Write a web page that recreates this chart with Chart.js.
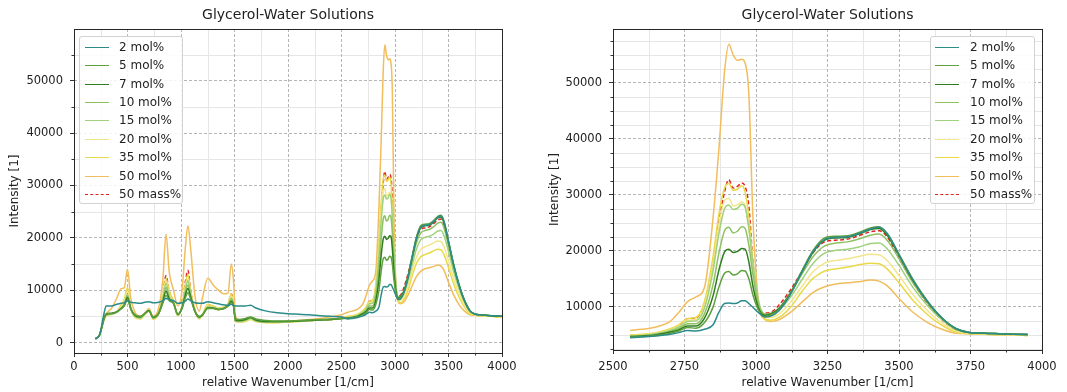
<!DOCTYPE html>
<html><head><meta charset="utf-8">
<script src="https://cdn.jsdelivr.net/npm/chart.js@4.4.1/dist/chart.umd.min.js"></script>
<style>
html,body{margin:0;padding:0;background:#fff;}
#wrap{position:relative;width:1067px;height:392px;overflow:hidden;background:#fff;}
canvas{position:absolute;top:0;}
.legend{position:absolute;background:rgba(255,255,255,0.85);border:1px solid #d2d2d2;border-radius:3px;font-family:"DejaVu Sans";font-size:12px;color:#222;box-sizing:border-box;}
.legend .row{position:absolute;left:0;height:18px;line-height:18px;white-space:nowrap;}
.legend .sw{position:absolute;top:9px;width:24px;height:0;}
.legend .tx{position:absolute;top:0;}
</style></head>
<body>
<div id="wrap">
  <canvas id="cL" width="533" height="392" style="left:0px"></canvas>
  <canvas id="cR" width="534" height="392" style="left:533px"></canvas>
  <div id="legL" class="legend" style="left:79px;top:36px;width:104px;height:168px;"></div>
  <div id="legR" class="legend" style="left:930px;top:36px;width:105px;height:168px;"></div>
</div>
<script>
// ---------- data ----------
const lowX = [200,240,280,300,350,400,440,470,500,530,570,620,660,700,740,790,830,860,890,930,970,1010,1040,1065,1090,1130,1170,1200,1250,1300,1350,1400,1440,1470,1490,1510,1550,1600,1650,1700,1800,1900,2000,2100,2200,2300,2400,2500];
const highX = [2560,2600,2650,2700,2730,2760,2790,2820,2850,2870,2890,2905,2920,2935,2950,2962,2975,2990,3010,3030,3050,3080,3120,3160,3200,3240,3280,3320,3360,3400,3430,3460,3500,3550,3600,3650,3700,3750,3800,3850,3900,3950,4000];

const seriesLabels = ['2 mol%','5 mol%','7 mol%','10 mol%','15 mol%','20 mol%','35 mol%','50 mol%','50 mass%'];

const mol2Low  = [700,1500,5500,7000,7000,7300,7500,7600,8000,7700,7600,7500,7700,7800,7600,7700,8000,8400,8200,8000,7500,7600,7900,8300,8000,7600,7500,7500,7800,7600,7400,7200,7100,7300,7100,7000,7000,7000,7100,6600,6000,5700,5500,5400,5300,5100,5000,4900];
const mol5Low  = [700,1500,4500,5300,5500,5800,6400,7000,8200,6500,5300,5000,5500,6000,4900,5500,7500,9000,8000,7500,5500,6500,8500,9500,8300,6000,5000,5300,6500,6500,6300,6500,7000,7600,7000,4500,4400,4600,4900,4500,4200,4100,4100,4200,4300,4400,4500,4600];
const mol7Low  = [700,1500,4600,5400,5600,5900,6500,7100,8600,6500,5200,4900,5500,6100,4800,5500,7800,9800,8300,7500,5400,6600,9000,10300,8700,6000,4900,5200,6600,6600,6300,6500,7000,7900,7100,4300,4200,4400,4800,4300,4000,4000,4000,4100,4200,4300,4400,4600];
const mol10Low = [700,1500,4500,5300,5500,5800,6500,7200,8900,6400,5100,4800,5500,6100,4700,5500,8100,10500,8600,7500,5300,6700,9500,11000,9000,6000,4800,5200,6700,6600,6300,6500,7100,8200,7200,4200,4100,4300,4700,4200,3900,3900,4000,4100,4200,4300,4400,4600];
const mol15Low = [700,1500,4400,5200,5400,5800,6600,7400,9200,6400,5000,4700,5400,6200,4600,5500,8400,11300,8900,7600,5200,6800,10000,11800,9300,6000,4700,5200,6800,6700,6400,6600,7200,8500,7300,4100,4000,4200,4600,4100,3900,3900,4000,4100,4200,4300,4400,4600];
const mol20Low = [700,1500,4300,5100,5400,5800,6800,7800,9800,6500,4900,4600,5300,6300,4500,5500,8600,11600,9200,7800,5100,6900,10300,12200,9600,6000,4600,5200,7000,6800,6500,6700,7300,8900,7400,4000,3900,4100,4500,4000,3800,3800,3900,4000,4200,4300,4400,4700];
const mol35Low = [700,1500,4200,5000,5400,5900,7200,8300,10500,6700,4800,4500,5300,6400,4400,5600,8900,12300,9800,8000,5100,7100,11000,13000,10000,6100,4500,5300,7300,7000,6600,6800,7500,9300,7500,4000,3900,4000,4400,4000,3800,3800,3900,4000,4200,4300,4400,4700];
const mol50Low = [700,1500,4500,5500,6500,8500,10300,10500,14000,8500,5800,5000,5600,6500,5000,6500,12000,20700,13500,10000,7000,10000,18000,22300,18000,9000,6000,8500,12300,11000,10000,9300,9500,15000,12000,5000,4200,4200,4500,4100,3900,3900,4000,4200,4400,4600,4900,5300];
const mass50Low= [700,1500,4400,5200,5500,5900,6700,7600,9500,6600,5000,4700,5500,6300,4600,5600,9000,12800,9800,7800,5300,7000,11500,13800,10000,6200,4800,5300,7000,6900,6500,6600,7200,9300,7600,4100,4000,4100,4600,4100,3900,3900,4000,4100,4200,4300,4400,4700];

const mol2High  = [4500,4600,4800,5100,5400,5800,5700,6000,6800,9000,10600,10700,10600,10700,11100,11100,10600,9900,8900,8200,8300,9300,12200,16200,19900,22000,22400,22500,23100,23900,24200,23000,19300,14700,10900,8000,6100,5400,5300,5200,5100,5100,5000];
const mol5High  = [4600,4700,4900,5300,5700,6300,6200,7200,10000,13500,16000,16300,15700,15900,16500,16400,15000,12000,9300,8300,8500,9500,12400,16400,20100,22300,22600,22700,23300,24100,24300,23000,19400,14800,11000,8000,6100,5400,5300,5200,5100,5100,5000];
const mol7High  = [4700,4800,5000,5500,5900,6600,6600,8000,12000,16500,19800,20300,19700,19900,20400,20300,18000,13500,9600,8500,8700,9700,12500,16200,19800,21900,22300,22400,23000,23800,24000,22700,19200,14600,10900,8000,6100,5400,5300,5200,5100,5000,5000];
const mol10High = [4700,4800,5100,5600,6100,7000,7000,8800,14000,19500,23600,24200,23200,23500,24300,24000,21000,15500,10200,8700,8800,9700,12300,15800,19000,20900,21400,21600,22100,22800,23000,21800,18600,14200,10700,7900,6000,5400,5300,5200,5100,5000,5000];
const mol15High = [4800,4900,5200,5800,6400,7400,7500,9800,16500,23000,27500,28200,27400,27600,28300,27800,24000,17500,10800,8700,8600,9400,11700,14800,17800,19600,20100,20300,20700,21300,21400,20300,17400,13400,10200,7700,5900,5400,5300,5200,5100,5000,5000];
const mol20High = [4900,5000,5300,5900,6500,7600,7700,10300,17500,24500,29000,29400,28000,28200,28700,28000,24000,17000,10300,8300,8100,8700,10800,13600,16300,17800,18300,18600,19000,19400,19300,18200,15600,12100,9300,7100,5700,5300,5200,5100,5000,5000,4900];
const mol35High = [5000,5100,5400,6100,6800,7900,8100,11000,19000,26500,31200,32000,30800,31000,31600,30500,26000,17500,10000,7900,7600,8100,9900,12700,15100,16400,16800,17100,17500,17800,17700,16700,14300,11100,8600,6700,5500,5200,5100,5000,5000,4900,4900];
const mol50High = [5800,6000,6400,7400,9000,10900,11800,13500,26000,38000,52000,56900,55000,54000,54200,53500,48000,25000,10500,7800,7400,7700,9000,10800,12600,13600,14100,14300,14500,14800,14600,13700,11500,9000,7200,6000,5300,5200,5100,5000,5000,4900,4900];
const mass50High= [4900,5000,5300,5900,6500,7900,8000,10500,18000,25000,30500,32700,31200,31500,32100,31500,28000,17500,10200,8900,9000,10300,13000,16300,19700,21600,21900,22100,22700,23400,23600,22400,18700,14300,10600,7700,5900,5300,5200,5100,5000,5000,5000];

// tick labels
const xTicksLeft  = [0,500,1000,1500,2000,2500,3000,3500,4000];
const yTicksLeft  = [0,10000,20000,30000,40000,50000];
const xTicksRight = [2500,2750,3000,3250,3500,3750,4000];
const yTicksRight = [10000,20000,30000,40000,50000];

// ---------- styling ----------
const seriesColors = ['#2b8c8a','#5e9f3e','#2f7d1f','#8fc062','#9fd27c','#f3e68a','#e9d948','#f2bd5c','#e02424'];
const FONT = 'DejaVu Sans';
const lowSets  = [mol2Low,mol5Low,mol7Low,mol10Low,mol15Low,mol20Low,mol35Low,mol50Low,mass50Low];
const highSets = [mol2High,mol5High,mol7High,mol10High,mol15High,mol20High,mol35High,mol50High,mass50High];

function minorList(min, max, step, majorStep){
  const out = [];
  for (let v = Math.ceil(min/step)*step; v <= max; v += step){
    if (Math.abs(v/majorStep - Math.round(v/majorStep)) > 1e-9) out.push(v);
  }
  return out;
}

const framePlugin = {
  id: 'frameMinor',
  beforeDraw(chart, args, o){
    const {ctx, chartArea:a} = chart;
    const x = chart.scales.x, y = chart.scales.y;
    ctx.save();
    ctx.lineWidth = 1;
    ctx.strokeStyle = '#e6e6e6';
    ctx.beginPath();
    o.xMinor.forEach(v => { const p = Math.round(x.getPixelForValue(v)) + 0.5; ctx.moveTo(p, a.top); ctx.lineTo(p, a.bottom); });
    o.yMinor.forEach(v => { const p = Math.round(y.getPixelForValue(v)) + 0.5; ctx.moveTo(a.left, p); ctx.lineTo(a.right, p); });
    ctx.stroke();
    ctx.strokeStyle = '#333';
    ctx.beginPath();
    o.xMinor.forEach(v => { const p = Math.round(x.getPixelForValue(v)) + 0.5; ctx.moveTo(p, a.bottom); ctx.lineTo(p, a.bottom + 2.5); });
    o.yMinor.forEach(v => { const p = Math.round(y.getPixelForValue(v)) + 0.5; ctx.moveTo(a.left - 2.5, p); ctx.lineTo(a.left, p); });
    ctx.stroke();
    ctx.restore();
  },
  afterDatasetsDraw(chart){
    const {ctx, chartArea:a} = chart;
    ctx.save();
    ctx.strokeStyle = '#262626';
    ctx.lineWidth = 1;
    ctx.strokeRect(Math.round(a.left)+0.5, Math.round(a.top)+0.5, Math.round(a.right-a.left), Math.round(a.bottom-a.top));
    ctx.restore();
  },
  afterDraw(chart, args, o){
    const {ctx, chartArea:a} = chart;
    ctx.save();
    ctx.font = '14px "' + FONT + '"';
    ctx.fillStyle = '#222';
    ctx.textAlign = 'center';
    ctx.textBaseline = 'middle';
    ctx.fillText(o.title, (a.left + a.right)/2, 15);
    ctx.restore();
  }
};

function makeChart(id, cfg){
  const datasets = seriesLabels.map((lab, i) => {
    const xs = cfg.useLow ? lowX.concat(highX) : highX.slice(0, highX.length - 1);
    const ys = cfg.useLow ? lowSets[i].concat(highSets[i]) : highSets[i].slice(0, highSets[i].length - 1);
    return {
      label: lab,
      data: xs.map((xv, k) => ({x: xv, y: ys[k]})),
      borderColor: seriesColors[i],
      backgroundColor: seriesColors[i],
      borderWidth: 1.5,
      borderDash: i === 8 ? [4, 2.5] : [],
      pointRadius: 0,
      fill: false,
      cubicInterpolationMode: 'monotone'
    };
  });
  const tickFont = {family: FONT, size: 11.5};
  const titleFont = {family: FONT, size: 12};
  return new Chart(document.getElementById(id), {
    type: 'line',
    data: {datasets},
    plugins: [framePlugin],
    options: {
      responsive: false,
      animation: false,
      layout: {padding: {top: 29, right: cfg.padRight, left: 0, bottom: 0}},
      plugins: {
        legend: {display: false},
        tooltip: {enabled: false},
        title: {display: false},
        frameMinor: {title: 'Glycerol-Water Solutions', xMinor: cfg.xMinor, yMinor: cfg.yMinor}
      },
      scales: {
        x: {
          type: 'linear', min: cfg.xMin, max: cfg.xMax,
          afterBuildTicks: s => { s.ticks = cfg.xTicks.map(v => ({value: v})); },
          afterFit: s => { s.height = cfg.xHeight; },
          ticks: {autoSkip: false, maxRotation: 0, padding: cfg.xPad, color: '#222', font: tickFont, callback: v => String(v)},
          grid: {color: '#b6b6b6', lineWidth: 1, drawTicks: true, tickLength: 4, tickColor: '#333', tickWidth: 1, tickBorderDash: []},
          border: {display: false, dash: [3, 2]},
          title: {display: true, text: 'relative Wavenumber [1/cm]', color: '#222', font: titleFont, padding: {top: 0, bottom: 2}}
        },
        y: {
          type: 'linear', min: cfg.yMin, max: cfg.yMax,
          afterBuildTicks: s => { s.ticks = cfg.yTicks.map(v => ({value: v})); },
          afterFit: s => { s.width = cfg.yWidth; },
          ticks: {autoSkip: false, padding: 7, color: '#222', font: tickFont, callback: v => String(v)},
          grid: {color: '#b6b6b6', lineWidth: 1, drawTicks: true, tickLength: 4, tickColor: '#333', tickWidth: 1, tickBorderDash: []},
          border: {display: false, dash: [3, 2]},
          title: {display: true, text: 'Intensity [1]', color: '#222', font: titleFont, padding: {top: cfg.yTitlePad, bottom: 0}}
        }
      }
    }
  });
}

makeChart('cL', {
  useLow: true, xMin: 0, xMax: 4000, yMin: -2000, yMax: 59900,
  xTicks: xTicksLeft, yTicks: yTicksLeft,
  xMinor: minorList(0, 4000, 250, 500), yMinor: minorList(-2000, 59900, 5000, 10000),
  padRight: 31, xHeight: 39, yWidth: 74, xPad: 3, yTitlePad: 8
});
makeChart('cR', {
  useLow: false, xMin: 2500, xMax: 4000, yMin: 2300, yMax: 59600,
  xTicks: xTicksRight, yTicks: yTicksRight,
  xMinor: minorList(2500, 4000, 125, 250), yMinor: minorList(2300, 59600, 2500, 10000),
  padRight: 25, xHeight: 42, yWidth: 80, xPad: 6, yTitlePad: 15
});

function buildLegend(id, swLeft, txLeft){
  const box = document.getElementById(id);
  seriesLabels.forEach((lab, i) => {
    const row = document.createElement('div');
    row.className = 'row';
    row.style.top = (0.7 + 18.4 * i) + 'px';
    row.style.width = '100%';
    const sw = document.createElement('div');
    sw.className = 'sw';
    sw.style.left = swLeft + 'px';
    sw.style.borderTop = (i === 8 ? '1.5px dashed ' : '1.5px solid ') + seriesColors[i];
    const tx = document.createElement('div');
    tx.className = 'tx';
    tx.style.left = txLeft + 'px';
    tx.textContent = lab;
    row.appendChild(sw); row.appendChild(tx);
    box.appendChild(row);
  });
}
buildLegend('legL', 5, 39);
buildLegend('legR', 4, 39);
</script>
</body></html>
